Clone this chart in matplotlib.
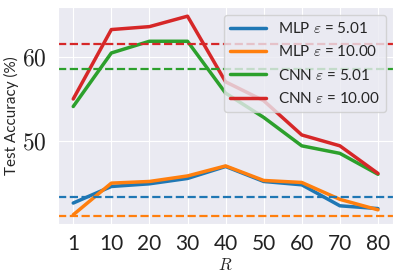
import matplotlib
matplotlib.use("Agg")
import matplotlib.pyplot as plt
import seaborn as sns

sns.set_style("darkgrid")
plt.rcParams['font.family'] = ['Lato', 'DejaVu Sans']
plt.rcParams['mathtext.fontset'] = 'cm'

R = ['1', '10', '20', '30', '40', '50', '60', '70', '80']
mlp_5 = [42.56, 44.54, 44.86, 45.5, 46.93, 45.14, 44.74, 42.23, 41.9]
mlp_10 = [41.16, 44.94, 45.14, 45.8, 47.0, 45.26, 45.02, 43.0, 41.75]
cnn_5 = [54.1, 60.5, 61.9, 61.9, 55.7, 52.8, 49.4, 48.5, 46.0]
cnn_10 = [55.0, 63.3, 63.65, 64.9, 57.05, 54.8, 50.7, 49.4, 46.1]
# baselines (dashed)
base_mlp_5 = 43.23
base_mlp_10 = 41.04
base_cnn_5 = 58.6
base_cnn_10 = 61.6
y_ticks = [50, 60]

fig, ax = plt.subplots(figsize=(4, 2.78), dpi=100)
x = list(range(len(R)))
cols = ['tab:blue', 'tab:orange', 'tab:green', 'tab:red']
ax.plot(x, mlp_5, color=cols[0], lw=2.5, label='MLP $\\varepsilon$ = 5.01')
ax.plot(x, mlp_10, color=cols[1], lw=2.5, label='MLP $\\varepsilon$ = 10.00')
ax.plot(x, cnn_5, color=cols[2], lw=2.5, label='CNN $\\varepsilon$ = 5.01')
ax.plot(x, cnn_10, color=cols[3], lw=2.5, label='CNN $\\varepsilon$ = 10.00')
for b, c in zip([base_mlp_5, base_mlp_10, base_cnn_5, base_cnn_10], cols):
    ax.axhline(b, color=c, ls='--', lw=1.6)

ax.set_xticks(x)
ax.set_xticklabels(R, fontsize=15, color='#222222')
ax.set_yticks(y_ticks)
ax.set_yticklabels(['$%d$' % v for v in y_ticks], fontsize=17, color='#222222')
ax.set_ylim(40.08, 65.97)
ax.tick_params(axis='x', pad=4)
ax.tick_params(axis='y', pad=5)
ax.set_xlabel('$R$', fontsize=12, labelpad=2)
ax.set_ylabel('Test Accuracy (%)', fontsize=11, labelpad=2)
ax.legend(loc='upper right', fontsize=11, handlelength=2.3, labelspacing=0.55,
          borderaxespad=0.5)
fig.subplots_adjust(left=0.145, right=0.983, top=0.974, bottom=0.195)
fig.savefig('out.png')
